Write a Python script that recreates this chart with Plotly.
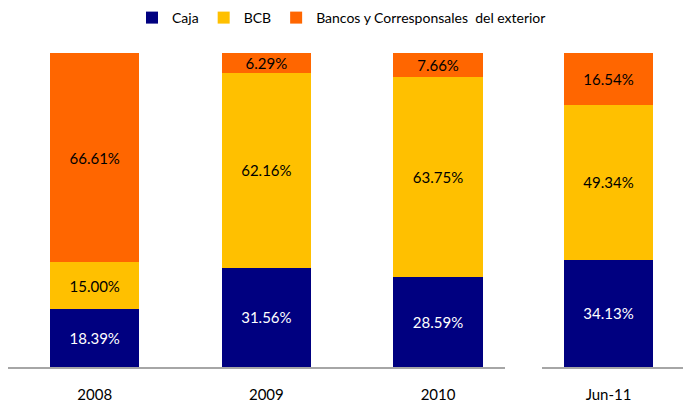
import plotly.graph_objects as go

categories_main = ["2008", "2009", "2010"]
categories_jun = ["Jun-11"]

caja = [18.39, 31.56, 28.59, 34.13]
bcb = [15.00, 62.16, 63.75, 49.34]
exterior = [66.61, 6.29, 7.66, 16.54]

series = [
    ("Caja", caja, "#000080", "white"),
    ("BCB", bcb, "#FFC000", "black"),
    ("Bancos y Corresponsales  del exterior", exterior, "#FF6600", "black"),
]

W, H = 683, 403
FONT = "Lato, Calibri, Liberation Sans, sans-serif"
FS = 15

fig = go.Figure()
for name, vals, color, tcol in series:
    fig.add_trace(go.Bar(
        x=list(range(len(categories_main))), y=vals[:3], name=name,
        marker=dict(color=color, line=dict(width=0)), width=0.52,
        text=[f"{v:.2f}%" for v in vals[:3]], textposition="inside",
        insidetextanchor="middle", textangle=0,
        textfont=dict(color=tcol, size=FS, family=FONT),
        xaxis="x", yaxis="y", legendgroup=name, showlegend=True,
        hoverinfo="skip"))
    fig.add_trace(go.Bar(
        x=[0], y=vals[3:], name=name,
        marker=dict(color=color, line=dict(width=0)), width=0.52,
        text=[f"{v:.2f}%" for v in vals[3:]], textposition="inside",
        insidetextanchor="middle", textangle=0,
        textfont=dict(color=tcol, size=FS, family=FONT),
        xaxis="x2", yaxis="y2", legendgroup=name, showlegend=False,
        hoverinfo="skip"))

ml, mr, mt, mb = 0, 0, 53, 36
pw = W - ml - mr

def px(v):
    return (v - ml) / pw

fig.update_layout(
    width=W, height=H, margin=dict(l=ml, r=mr, t=mt, b=mb, autoexpand=False),
    barmode="stack", plot_bgcolor="white", paper_bgcolor="white",
    font=dict(family=FONT, size=FS, color="black"),
    uniformtext=dict(minsize=FS, mode="show"),
    xaxis=dict(domain=[px(8), px(505)], range=[-0.505, 2.39],
               tickmode="array", tickvals=[0, 1, 2], ticktext=categories_main,
               showline=True, linecolor="#A6A6A6", linewidth=2,
               showgrid=False, zeroline=False, ticks="", ticklabelstandoff=13,
               tickfont=dict(size=FS, family=FONT), fixedrange=True, automargin=False),
    xaxis2=dict(domain=[px(542), px(683)], range=[-0.388, 0.434],
                tickmode="array", tickvals=[0], ticktext=categories_jun,
                showline=True, linecolor="#A6A6A6", linewidth=2,
                showgrid=False, zeroline=False, ticks="", ticklabelstandoff=13,
                tickfont=dict(size=FS, family=FONT), anchor="y2", fixedrange=True,
                automargin=False),
    yaxis=dict(range=[0, 100], visible=False, fixedrange=True),
    yaxis2=dict(range=[0, 100], visible=False, anchor="x2",
                domain=[0, 1], fixedrange=True),
    legend=dict(orientation="h", x=0.5, xanchor="center", y=1 + (mt - 18) / (H - mt - mb),
                yanchor="middle", font=dict(size=14, family=FONT), traceorder="normal",
                itemwidth=30, tracegroupgap=0),
    showlegend=True,
)

fig.write_html("out.html", config={"displayModeBar": False},
               post_script="document.body.style.margin='0';document.body.style.overflow='hidden';")
